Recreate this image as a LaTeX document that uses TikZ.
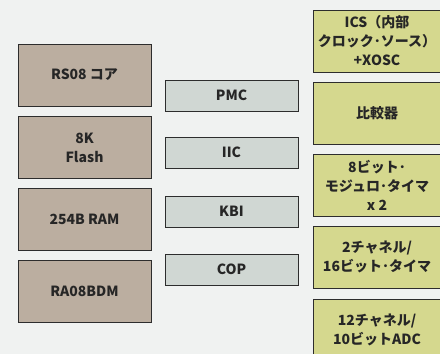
\documentclass[tikz,border=0pt]{standalone}
\usepackage{fontspec}
\setmainfont{Noto Sans CJK JP}
\usepackage{xcolor}
\definecolor{backdrop}{RGB}{240, 242, 241}
\definecolor{corebox}{RGB}{187, 174, 160}
\definecolor{busbox}{RGB}{208, 215, 211}
\definecolor{perifbox}{RGB}{213, 216, 142}
\definecolor{edge}{RGB}{45, 45, 45}
\usepackage{tikz}

\begin{document}
\begin{tikzpicture}[x=1pt, y=-1pt,
    block/.style={draw=edge, line width=0.8pt, text=black!85, align=center,
        inner sep=0pt, font=\fontsize{14}{19}\selectfont\bfseries},
    core/.style={block, fill=corebox, minimum width=133pt, minimum height=62pt},
    bus/.style={block, fill=busbox, minimum width=133pt, minimum height=31pt},
    perif/.style={block, fill=perifbox, minimum width=128pt, minimum height=62pt}]
    % Background
    \fill[backdrop] (0,0) rectangle (440,354);
    \useasboundingbox (0,0) rectangle (440,354);

    % Core blocks
    \node[core] (cpu) at (84.5,75) {RS08 コア};
    \node[core] (flash) at (84.5,147.5) {8K\\Flash};
    \node[core] (ram) at (84.5,219) {254B RAM};
    \node[core] (bdm) at (84.5,291.5) {RA08BDM};

    % Small modules
    \node[bus] (pmc) at (231.5,95.5) {PMC};
    \node[bus] (iic) at (231.5,152.5) {IIC};
    \node[bus] (kbi) at (231.5,211.5) {KBI};
    \node[bus] (cop) at (231.5,269.5) {COP};

    % Peripherals
    \begin{scope}
    \clip (0,0) rectangle (440,354);
    \node[perif] (ics) at (377,41) {ICS（内部\\クロック･ソース）\\+XOSC};
    \node[perif] (acmp) at (377,113) {比較器};
    \node[perif] (mtim) at (377,185) {8ビット･\\モジュロ･タイマ\\x 2};
    \node[perif] (tpm) at (377,257) {2チャネル/\\16ビット･タイマ};
    \node[perif] (adc) at (377,330) {12チャネル/\\10ビットADC};
    \end{scope}
\end{tikzpicture}
\end{document}
